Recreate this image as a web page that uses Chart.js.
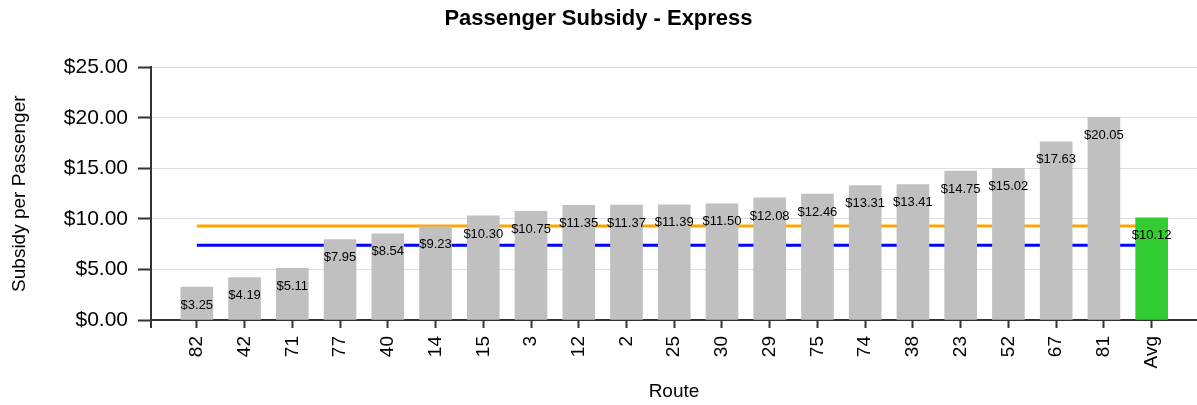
<!DOCTYPE html>
<html>
<head>
<meta charset="utf-8">
<script src="https://cdn.jsdelivr.net/npm/chart.js@4/dist/chart.umd.min.js"></script>
<style>
  html, body { margin: 0; padding: 0; background: #fff; }
  #wrap { width: 1197px; height: 405px; position: relative; }
</style>
</head>
<body>
<div id="wrap"><canvas id="c"></canvas></div>
<script>
// ---- data ----
const routes = ['82','42','71','77','40','14','15','3','12','2','25','30','29','75','74','38','23','52','67','81','Avg'];
const subsidy = [3.25, 4.19, 5.11, 7.95, 8.54, 9.23, 10.30, 10.75, 11.35, 11.37, 11.39, 11.50, 12.08, 12.46, 13.31, 13.41, 14.75, 15.02, 17.63, 20.05, 10.12];
const orangeLineValue = 9.3;
const blueLineValue = 7.4;
const yTicks = [0, 5, 10, 15, 20, 25];

const FONT = "Arial, 'Liberation Sans', sans-serif";
const barColors = routes.map(r => r === 'Avg' ? '#33CC33' : '#C0C0C0');
const lastIdx = routes.length - 1;

const valueLabels = {
  id: 'valueLabels',
  afterDatasetsDraw(chart) {
    const ctx = chart.ctx;
    const meta = chart.getDatasetMeta(0);
    ctx.save();
    ctx.font = '13px ' + FONT;
    ctx.fillStyle = '#000';
    ctx.textAlign = 'center';
    ctx.textBaseline = 'middle';
    meta.data.forEach((el, i) => {
      ctx.fillText('$' + subsidy[i].toFixed(2), el.x, el.y + 18);
    });
    ctx.restore();
  }
};

const axisExtras = {
  id: 'axisExtras',
  afterDraw(chart) {
    const ctx = chart.ctx;
    const a = chart.chartArea;
    ctx.save();
    ctx.strokeStyle = '#333';
    ctx.lineWidth = 2;
    ctx.beginPath();
    ctx.moveTo(a.left, a.bottom);
    ctx.lineTo(a.left, a.bottom + 8);
    ctx.stroke();
    ctx.restore();
  }
};

new Chart(document.getElementById('c'), {
  data: {
    datasets: [
      {
        type: 'bar',
        data: routes.map((r, i) => ({ x: i, y: subsidy[i] })),
        backgroundColor: barColors,
        borderWidth: 0,
        barThickness: 32,
        order: 0
      },
      {
        type: 'line',
        data: [{ x: 0, y: orangeLineValue }, { x: lastIdx, y: orangeLineValue }],
        borderColor: '#FFA500',
        borderWidth: 3,
        pointRadius: 0,
        order: 1
      },
      {
        type: 'line',
        data: [{ x: 0, y: blueLineValue }, { x: lastIdx, y: blueLineValue }],
        borderColor: '#0000FF',
        borderWidth: 3,
        pointRadius: 0,
        order: 1
      }
    ]
  },
  options: {
    responsive: true,
    maintainAspectRatio: false,
    animation: false,
    layout: { padding: { left: 0, right: 0, top: 0, bottom: 0 } },
    plugins: {
      legend: { display: false },
      tooltip: { enabled: false },
      title: {
        display: true,
        text: 'Passenger Subsidy - Express',
        color: '#000',
        font: { family: FONT, size: 22, weight: 'bold', lineHeight: 1.2 },
        padding: { top: 6, bottom: 35 }
      }
    },
    scales: {
      x: {
        type: 'linear',
        offset: false,
        min: -0.96,
        max: 20.95,
        afterBuildTicks(scale) {
          scale.ticks = routes.map((r, i) => ({ value: i }));
        },
        afterFit(scale) { scale.height = 85; },
        ticks: {
          autoSkip: false,
          minRotation: 90,
          maxRotation: 90,
          padding: 8,
          color: '#000',
          font: { family: FONT, size: 19 },
          callback: (v) => routes[v] !== undefined ? routes[v] : ''
        },
        grid: {
          offset: false,
          drawOnChartArea: false,
          drawTicks: true,
          tickLength: 8,
          tickColor: '#333',
          tickWidth: 2
        },
        border: { color: '#333', width: 2 },
        title: {
          display: true,
          text: 'Route',
          color: '#000',
          font: { family: FONT, size: 19 },
          padding: { top: 0, bottom: 2 }
        }
      },
      y: {
        min: 0,
        max: 25,
        afterBuildTicks(scale) {
          scale.ticks = yTicks.map(v => ({ value: v }));
        },
        afterFit(scale) { scale.width = 151; },
        ticks: {
          padding: 10,
          color: '#000',
          font: { family: FONT, size: 21 },
          callback: (v) => '$' + Number(v).toFixed(2)
        },
        grid: {
          color: '#DDDDDD',
          lineWidth: 1,
          drawTicks: true,
          tickLength: 13,
          tickColor: '#333',
          tickWidth: 2
        },
        border: { color: '#333', width: 2 },
        title: {
          display: true,
          text: 'Subsidy per Passenger',
          color: '#000',
          font: { family: FONT, size: 19 },
          padding: { top: 8, bottom: 0 }
        }
      }
    }
  },
  plugins: [valueLabels, axisExtras]
});
</script>
</body>
</html>
